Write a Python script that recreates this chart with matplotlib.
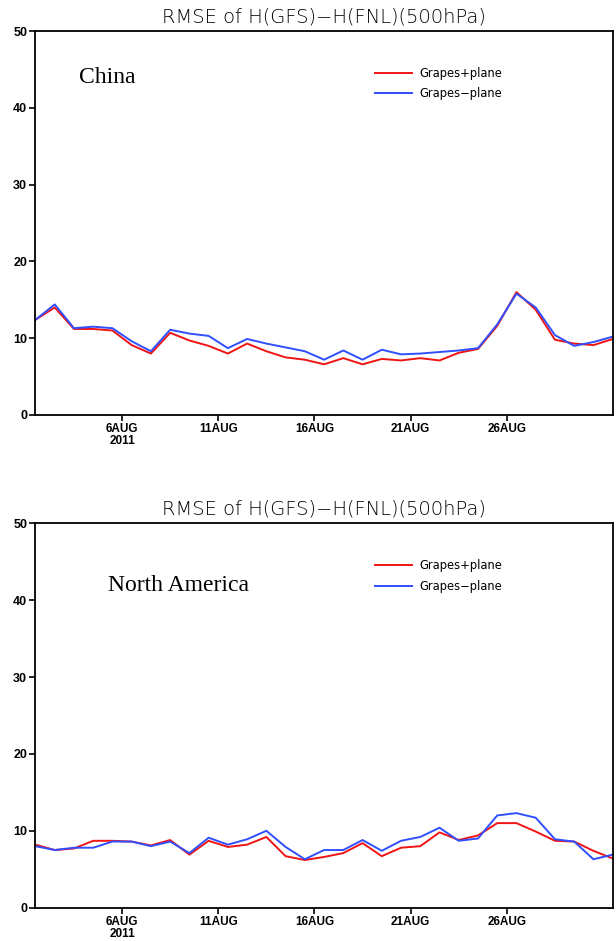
import matplotlib.pyplot as plt
import numpy as np

#------------------------------------------------------------------------------
# Data (RMSE)

days = np.arange(31) + 1.5          # Aug 1.5 ... Aug 31.5
tick_days = [6, 11, 16, 21, 26]
tick_labels = ['6AUG\n2011', '11AUG', '16AUG', '21AUG', '26AUG']

china_plus = [12.4, 14.0, 11.2, 11.2, 11.0, 9.1, 8.0, 10.7, 9.7, 9.0, 8.0,
              9.3, 8.3, 7.5, 7.2, 6.6, 7.4, 6.6, 7.3, 7.1, 7.4, 7.1, 8.1,
              8.6, 11.6, 16.0, 13.7, 9.8, 9.3, 9.1, 9.9]
china_minus = [12.4, 14.4, 11.3, 11.5, 11.3, 9.6, 8.3, 11.1, 10.6, 10.3, 8.7,
               9.9, 9.3, 8.8, 8.3, 7.2, 8.4, 7.2, 8.5, 7.9, 8.0, 8.2, 8.4,
               8.7, 11.8, 15.8, 14.0, 10.4, 9.0, 9.5, 10.2]

na_plus = [8.2, 7.5, 7.7, 8.7, 8.7, 8.6, 8.1, 8.8, 6.9, 8.7, 7.9,
           8.2, 9.2, 6.7, 6.2, 6.6, 7.1, 8.4, 6.7, 7.8, 8.0, 9.8, 8.8,
           9.4, 11.0, 11.0, 9.9, 8.7, 8.6, 7.4, 6.4]
na_minus = [8.0, 7.5, 7.8, 7.8, 8.6, 8.6, 8.0, 8.6, 7.1, 9.1, 8.2,
            8.9, 10.0, 7.9, 6.3, 7.5, 7.5, 8.8, 7.4, 8.7, 9.2, 10.4, 8.7,
            9.0, 12.0, 12.3, 11.7, 8.9, 8.6, 6.3, 6.9]

regions = ['China', 'North America']
series = [(china_plus, china_minus), (na_plus, na_minus)]
title = 'RMSE of H(GFS)\u2212H(FNL)(500hPa)'

#------------------------------------------------------------------------------
# Plot

fig = plt.figure(figsize=(6.16, 9.41), dpi=100)

axes_rects = [
    [0.0576, 0.559, 0.937, 0.408],
    [0.0576, 0.0354, 0.937, 0.4085],
]
label_pos = [(0.075, 0.88), (0.126, 0.838)]
legend_anchor = [(0.581, 0.918), (0.581, 0.918)]

for k in range(2):
    ax = fig.add_axes(axes_rects[k])
    plus, minus = series[k]
    ax.plot(days, plus, color='#f01414', lw=1.4, label='Grapes+plane')
    ax.plot(days, minus, color='#3050ff', lw=1.4, label='Grapes\u2212plane')

    ax.set_xlim(days[0], days[-1])
    ax.set_ylim(0, 50)
    ax.set_yticks([0, 10, 20, 30, 40, 50])
    ax.set_xticks(tick_days)
    ax.set_xticklabels(tick_labels, linespacing=0.95)
    ax.tick_params(direction='out', length=4, width=1.2, pad=2)
    for lab in ax.get_xticklabels():
        lab.set_fontsize(8.5)
        lab.set_fontweight('bold')
        lab.set_family('Liberation Sans')
    for lab in ax.get_yticklabels():
        lab.set_fontsize(9)
        lab.set_fontweight('bold')
        lab.set_family('Liberation Sans')
    for s in ax.spines.values():
        s.set_linewidth(1.3)

    ax.set_title(title, fontsize=14, fontweight='light', pad=6)

    ax.text(label_pos[k][0], label_pos[k][1], regions[k], transform=ax.transAxes,
            family='Liberation Serif', fontsize=17, va='center', ha='left')

    ax.legend(loc='upper left', bbox_to_anchor=legend_anchor[k], frameon=False,
              fontsize=8.3, handlelength=3.2, handletextpad=0.6,
              labelspacing=0.62, borderaxespad=0)

plt.savefig('out.png', dpi=100)
